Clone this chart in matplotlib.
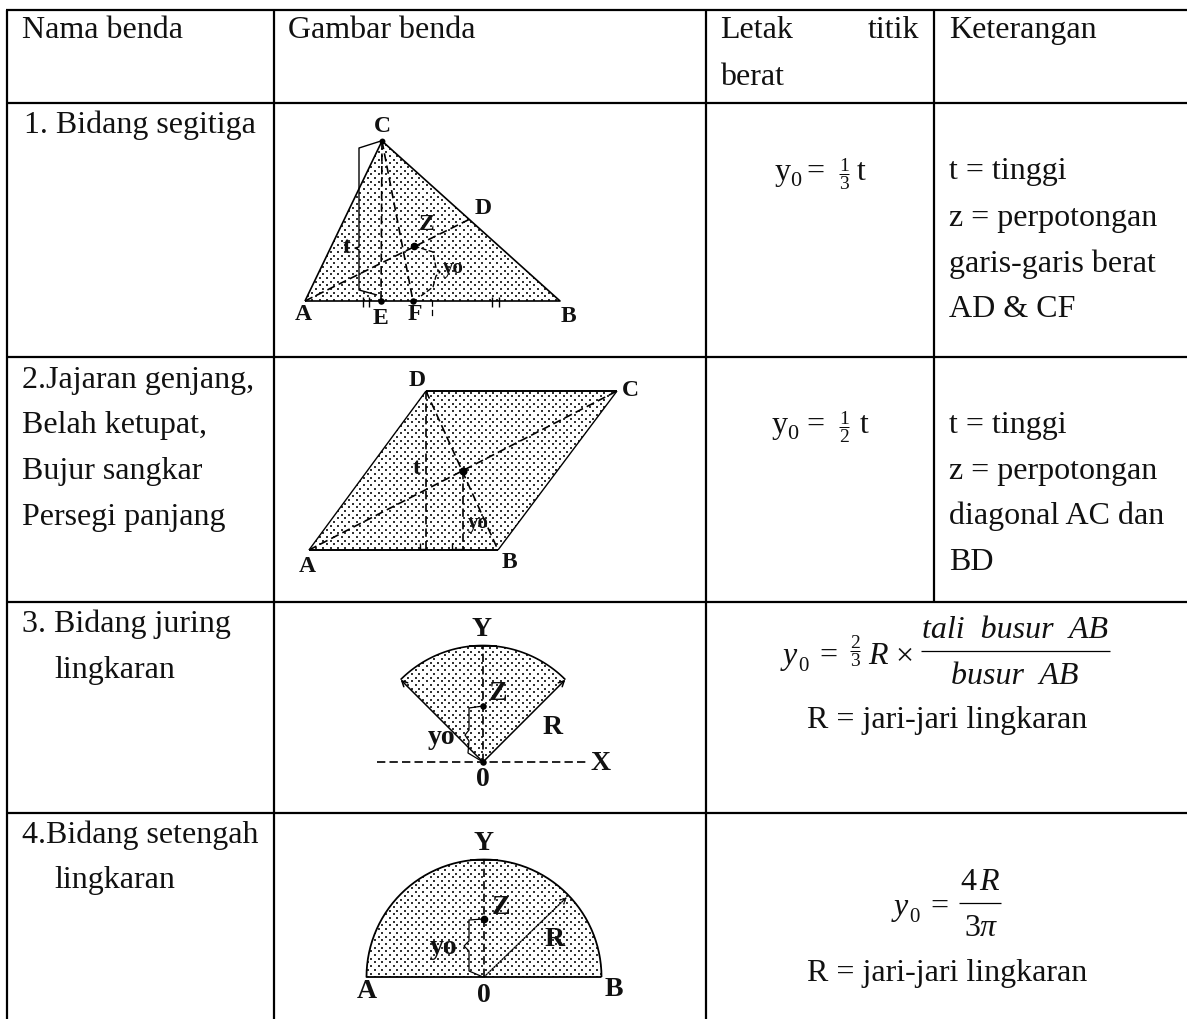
import numpy as np
import matplotlib
matplotlib.use('Agg')
import matplotlib.pyplot as plt
from matplotlib.patches import Polygon

plt.rcParams['font.family'] = ['Liberation Serif', 'DejaVu Serif']

W, H = 1187, 1019
BODY = 23

# table grid
col_x = [7, 274, 706, 934]
row_y = [10, 103, 357, 602, 813]

# table text: (x, baseline, string)
header_text = [(22, 38, 'Nama benda'), (288, 38, 'Gambar benda'), (720.5, 38, 'Letak'),
               (720.5, 85, 'berat'), (949, 38, 'Keterangan')]
name_text = [(24, 133, '1. Bidang segitiga'),
             (22, 388, '2.Jajaran genjang,'), (22, 433, 'Belah ketupat,'),
             (22, 479, 'Bujur sangkar'), (22, 525, 'Persegi panjang'),
             (22, 632, '3. Bidang juring'), (54, 678, 'lingkaran'),
             (22, 843, '4.Bidang setengah'), (54, 888, 'lingkaran')]
note_text = [(949, 179, 't = tinggi'), (949, 226, 'z = perpotongan'),
             (949, 272, 'garis-garis berat'), (949, 317, 'AD & CF'),
             (949, 433, 't = tinggi'), (949, 479, 'z = perpotongan'),
             (949, 524, 'diagonal AC dan'), (949, 570, 'BD')]
radius_note = 'R = jari-jari lingkaran'
radius_note_y = [728, 981]

# triangle
tri_A, tri_B, tri_C = (305, 301), (560, 301), (382, 141)
tri_D, tri_E, tri_F, tri_Z = (472, 218), (381, 301), (413, 301), (414, 246)
tri_t_x = [381, 359, 359, 355, 359, 359, 377]
tri_t_y = [141, 148, 247, 248, 250, 290, 295]
tri_y_x = [414, 433, 436, 440, 436, 433, 421]
tri_y_y = [246, 252, 268, 272, 276, 287, 296]
tri_ticks = [363, 369, 492, 499]
tri_labels = [('C', 382, 126), ('D', 483, 208), ('Z', 427, 224), ('A', 303, 314), ('E', 380, 318),
              ('F', 415, 315), ('B', 568, 316), ('t', 347, 247)]
tri_yo = ('yo', 453, 268)

# parallelogram
par_A, par_B, par_C, par_D, par_Z = (309, 550), (498, 550), (617, 391), (426, 391), (463, 471)
par_labels = [('D', 417, 380), ('C', 630, 390), ('A', 307, 567), ('B', 509, 563), ('t', 417, 468)]
par_yo = ('yo', 478, 523)

# sector
sec_O, sec_R, sec_Z_y = (483, 762), 116.5, 706
sec_axis_x = [377, 588]
sec_brace_x = [483, 469, 469, 465, 469, 468, 483]
sec_brace_y = [706, 708, 730, 735, 741, 753, 762]
sec_labels = [('Y', 482, 629), ('Z', 498, 693), ('R', 553, 727), ('yo', 442, 737),
              ('X', 601, 763), ('0', 483, 780)]

# half circle
half_O, half_R, half_Z_y = (484, 977), 117.5, 919
half_tip = (567, 897)
half_brace_x = [483, 469, 469, 464, 469, 469, 483]
half_brace_y = [919, 920, 941, 946, 951, 971, 977]
half_labels = [('Y', 483, 843), ('Z', 501, 907), ('yo', 444, 947), ('R', 555, 940),
               ('A', 367, 992), ('0', 484, 995), ('B', 614, 990)]

fig = plt.figure(figsize=(W / 100, H / 100), dpi=100)
ax = fig.add_axes([0, 0, 1, 1])
ax.set_xlim(0, W)
ax.set_ylim(H, 0)
ax.axis('off')


def line(x, y, lw=1.3, ls='-', color='black', z=3):
    ax.plot(x, y, color=color, lw=lw, ls=ls, solid_capstyle='butt', zorder=z)


def dashed(p, q, lw=1.2):
    ax.plot([p[0], q[0]], [p[1], q[1]], color='black', lw=lw, ls=(0, (5, 2.5)), zorder=3)


def put(x, y, s, size=BODY, **kw):
    kw.setdefault('ha', 'left')
    kw.setdefault('va', 'baseline')
    ax.text(x, y, s, fontsize=size, color='#111111', zorder=5, **kw)


def stipple(vertices):
    # dot screen clipped to the shape
    patch = Polygon(vertices, closed=True, fc='white', ec='none', zorder=1)
    ax.add_patch(patch)
    xs, ys, pts = np.arange(290, 640, 7.4), np.arange(130, 985, 3.7), []
    for i, y in enumerate(ys):
        for x in xs + (3.7 if i % 2 else 0):
            pts.append((x, y))
    pts = np.array(pts)
    dots = ax.scatter(pts[:, 0], pts[:, 1], s=2.2, c='#333333', marker='s', linewidths=0, zorder=2)
    dots.set_clip_path(patch)


def point(p, size=22):
    ax.scatter([p[0]], [p[1]], s=size, c='black', linewidths=0, zorder=4)


def labels(items, size, weight='bold'):
    for s, x, y in items:
        put(x, y, s, size=size, ha='center', va='center', fontweight=weight)


def y_zero(x, y, size=BODY, italic=False):
    put(x, y, 'y', size=size, style='italic' if italic else 'normal')
    put(x + (15 if italic else 15), y + 7 if italic else y + 6, '0', size=15 if italic else 16)


def fraction(cx, bar_y, top, bottom, half=5, size=14):
    line([cx - half, cx + half], [bar_y, bar_y], lw=0.7)
    put(cx, bar_y - 3, top, size=size, ha='center')
    put(cx, bar_y + 15, bottom, size=size, ha='center')


# grid
for y in row_y:
    line([col_x[0] - 1, W], [y, y], lw=1.6)
line([col_x[0], col_x[0]], [row_y[0], H], lw=1.6)
line([col_x[1], col_x[1]], [row_y[0], H], lw=1.6)
line([col_x[2], col_x[2]], [row_y[0], H], lw=1.6)
line([col_x[3], col_x[3]], [row_y[0], row_y[3]], lw=1.6)

# text cells
for x, y, s in header_text + name_text + note_text:
    put(x, y, s)
put(919, 38, 'titik', ha='right')

# formulas
y_zero(775, 180)
put(806, 180, '=')
fraction(844, 174, '1', '3')
put(857, 180, 't')

y_zero(772, 433)
put(806, 433, '=')
fraction(844, 427, '1', '2')
put(860, 433, 't')

y_zero(783, 664, italic=True)
put(819, 664, '=')
fraction(855, 651, '2', '3')
put(868, 664, 'R', style='italic')
put(904, 664, '×', ha='center')
line([920.5, 1110], [651, 651], lw=0.9)
put(1015, 638, 'tali  busur  AB', ha='center', style='italic')
put(1015, 684, 'busur  AB', ha='center', style='italic')

y_zero(894, 915, italic=True)
put(930, 915, '=')
line([958.5, 1001], [903, 903], lw=0.9)
put(976, 890, '4', ha='right')
put(979, 890, 'R', style='italic')
put(980, 936, '3', ha='right')
put(980, 936, 'π', style='italic')
for y in radius_note_y:
    put(947, y, radius_note, ha='center')

# triangle
stipple([tri_A, tri_B, tri_C])
line([tri_A[0], tri_B[0], tri_C[0], tri_A[0]], [tri_A[1], tri_B[1], tri_C[1], tri_A[1]], lw=1.2)
dashed(tri_C, tri_E)
dashed(tri_C, tri_F)
dashed(tri_A, tri_D)
line(tri_t_x, tri_t_y, lw=1.0)
line(tri_y_x, tri_y_y, lw=1.0, ls=(0, (4, 1.5)))
dashed((432, 300), (432, 317), lw=0.9)
for x in tri_ticks:
    line([x, x], [297, 307], lw=1.0)
point(tri_E)
point(tri_F)
point(tri_Z, 30)
point(tri_C, 18)
labels(tri_labels, 17)
labels([tri_yo], 15)

# parallelogram
stipple([par_A, par_B, par_C, par_D])
line([par_A[0], par_B[0]], [par_A[1], par_B[1]], lw=1.4)
line([par_D[0], par_C[0]], [par_D[1], par_C[1]], lw=1.4)
line([par_A[0], par_D[0]], [par_A[1], par_D[1]], lw=1.0)
line([par_B[0], par_C[0]], [par_B[1], par_C[1]], lw=1.0)
dashed(par_A, par_C)
dashed(par_D, par_B)
dashed(par_D, (par_D[0], par_A[1]))
dashed(par_Z, (par_Z[0], par_A[1]))
line([420, 420, 426], [543, 549, 549], lw=1.0)
line([452, 452, 462], [543, 549, 549], lw=1.0)
point(par_Z, 34)
labels(par_labels, 17)
labels([par_yo], 15)

# sector
ang = np.radians(np.arange(45, 136))
sec_x = sec_O[0] + sec_R * np.cos(ang)
sec_y = sec_O[1] - sec_R * np.sin(ang)
stipple([sec_O] + list(zip(sec_x, sec_y)))
line(sec_x, sec_y, lw=1.2)
for i in (0, -1):
    ax.annotate('', xy=(sec_x[i], sec_y[i]), xytext=sec_O, zorder=3,
                arrowprops=dict(arrowstyle='->', lw=1.1, color='black', shrinkA=0, shrinkB=0))
dashed(sec_O, (sec_O[0], sec_O[1] - sec_R))
dashed((sec_axis_x[0], sec_O[1]), (sec_axis_x[1], sec_O[1]))
line(sec_brace_x, sec_brace_y, lw=0.9)
line([sec_O[0] - 14, sec_O[0] + 14], [sec_O[1] - sec_R] * 2, lw=1.3)
point(sec_O)
point((sec_O[0], sec_Z_y))
labels(sec_labels, 20)

# half circle
ang = np.radians(np.arange(0, 181))
half_x = half_O[0] + half_R * np.cos(ang)
half_y = half_O[1] - half_R * np.sin(ang)
stipple(list(zip(half_x, half_y)))
line(list(half_x) + [half_x[0]], list(half_y) + [half_y[0]], lw=1.3)
ax.annotate('', xy=half_tip, xytext=half_O, zorder=3,
            arrowprops=dict(arrowstyle='->', lw=1.0, ls=(0, (1, 1)), color='black', shrinkA=0, shrinkB=0))
dashed(half_O, (half_O[0], half_O[1] - half_R))
line(half_brace_x, half_brace_y, lw=0.9)
line([half_O[0] - 14, half_O[0] + 14], [half_O[1] - half_R] * 2, lw=1.3)
point((half_O[0], half_Z_y), 30)
labels(half_labels, 20)

fig.savefig('out.png', dpi=100, facecolor='white')
